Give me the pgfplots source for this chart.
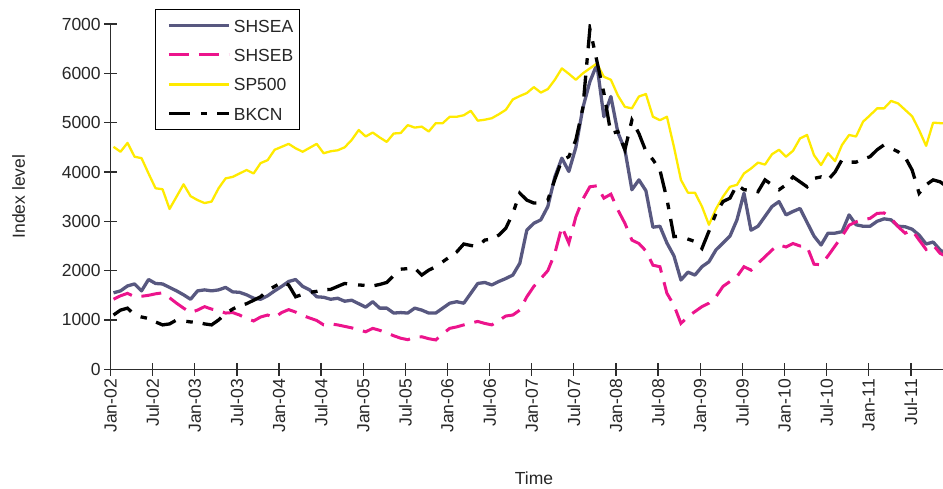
\documentclass[border=0pt]{standalone}
\usepackage{fontspec}
\setmainfont{Liberation Sans}
\usepackage{pgfplots}
\usepackage{pgfplotstable}
\pgfplotsset{compat=1.18}

\definecolor{shsea}{RGB}{88,88,128}
\definecolor{shseb}{RGB}{236,20,140}
\definecolor{spyel}{RGB}{255,234,0}
\definecolor{axisgray}{RGB}{45,45,45}

% Monthly index levels, Jan-02 (m=0) to Dec-11 (m=119)
\pgfplotstableread{
m shsea shseb sp bkcn
0 1550 1420 4510 1100
1 1590 1490 4410 1200
2 1690 1540 4590 1240
3 1730 1470 4310 1100
4 1590 1480 4280 1060
5 1820 1500 3970 1030
6 1740 1530 3670 960
7 1730 1550 3650 900
8 1660 1450 3250 920
9 1590 1340 3500 1000
10 1510 1240 3750 980
11 1420 1150 3510 960
12 1590 1200 3430 950
13 1610 1270 3370 920
14 1590 1220 3400 900
15 1610 1190 3670 1000
16 1660 1140 3870 1130
17 1570 1150 3900 1220
18 1560 1100 3970 1290
19 1510 1030 4040 1330
20 1440 980 3970 1400
21 1420 1060 4180 1470
22 1490 1100 4240 1600
23 1590 1050 4450 1680
24 1680 1150 4510 1760
25 1780 1210 4570 1710
26 1820 1160 4480 1470
27 1680 1090 4410 1520
28 1610 1040 4490 1560
29 1470 990 4570 1580
30 1460 900 4380 1610
31 1420 920 4420 1620
32 1440 900 4440 1680
33 1380 870 4500 1740
34 1400 840 4650 1720
35 1330 800 4850 1710
36 1260 760 4720 1700
37 1370 830 4800 1690
38 1240 790 4700 1720
39 1240 740 4610 1760
40 1140 680 4780 1900
41 1150 630 4790 2030
42 1140 600 4950 2040
43 1240 650 4900 2050
44 1200 660 4920 1910
45 1140 620 4820 2010
46 1140 595 4990 2080
47 1240 720 4990 2180
48 1340 830 5120 2280
49 1370 860 5120 2380
50 1340 900 5150 2540
51 1540 940 5240 2510
52 1740 970 5040 2490
53 1760 930 5060 2620
54 1710 900 5090 2640
55 1780 990 5170 2720
56 1840 1080 5260 2860
57 1910 1100 5470 3160
58 2150 1200 5540 3570
59 2820 1470 5600 3430
60 2960 1680 5720 3370
61 3030 1840 5610 3370
62 3300 2000 5680 3430
63 3900 2350 5870 3850
64 4280 2890 6100 4240
65 4010 2560 5990 4310
66 4500 3090 5870 4650
67 5300 3450 6000 5300
68 5830 3700 6100 6900
69 6180 3720 6200 6250
70 5120 3470 5930 5600
71 5530 3550 5870 4780
72 4800 3230 5550 4820
73 4450 2960 5320 4450
74 3640 2620 5290 5050
75 3840 2550 5530 4780
76 3620 2400 5580 4420
77 2880 2110 5120 4250
78 2900 2080 5050 4040
79 2560 1540 5120 3450
80 2300 1300 4510 2690
81 1810 930 3840 2700
82 1970 1070 3580 2640
83 1910 1170 3580 2590
84 2080 1270 3300 2450
85 2180 1340 2930 2800
86 2420 1470 3250 3160
87 2560 1680 3500 3400
88 2700 1780 3700 3470
89 3030 1880 3740 3740
90 3570 2080 3970 3640
91 2820 2010 4070 3630
92 2900 2150 4190 3600
93 3100 2280 4150 3840
94 3300 2420 4360 3740
95 3400 2520 4450 3640
96 3130 2480 4310 3740
97 3200 2550 4430 3900
98 3260 2500 4680 3800
99 2980 2490 4750 3700
100 2700 2130 4340 3870
101 2520 2120 4140 3900
102 2760 2300 4380 3840
103 2760 2500 4220 4000
104 2790 2700 4550 4250
105 3130 2920 4750 4200
106 2930 2990 4720 4200
107 2900 3030 5020 4260
108 2900 3060 5150 4310
109 3000 3160 5290 4450
110 3050 3170 5290 4550
111 3030 3060 5440 4480
112 2900 2890 5390 4410
113 2890 2760 5260 4300
114 2840 2820 5130 4040
115 2720 2620 4850 3570
116 2540 2430 4530 3740
117 2580 2520 5000 3840
118 2420 2350 4990 3800
119 2320 2280 4990 3700
}\indexdata

\begin{document}
\begin{tikzpicture}[x=1pt,y=1pt,font=\fontsize{17.5}{21}\selectfont]
\begin{axis}[
  at={(110.5pt,119.7pt)}, anchor=south west,
  scale only axis, width=832.5pt, height=345.3pt,
  xmin=-0.43, xmax=118.41, ymin=0, ymax=7000,
  axis x line*=bottom, axis y line*=left,
  axis line style={axisgray, line width=1.3pt},
  every tick/.style={axisgray, line width=1.3pt},
  tick align=center, major tick length=12.5pt,
  xtick={-0.43,5.58,11.60,17.61,23.62,29.64,35.65,41.66,47.67,53.69,59.70,65.71,71.73,77.74,83.75,89.77,95.78,101.79,107.81,113.82},
  xticklabels={Jan-02,Jul-02,Jan-03,Jul-03,Jan-04,Jul-04,Jan-05,Jul-05,Jan-06,Jul-06,Jan-07,Jul-07,Jan-08,Jul-08,Jan-09,Jul-09,Jan-10,Jul-10,Jan-11,Jul-11},
  ytick={0,1000,2000,3000,4000,5000,6000,7000},
  xticklabel style={rotate=90, anchor=east, text=black!85},
  yticklabel style={text=black!85},
  /pgf/number format/assume math mode=true,
  /pgf/number format/1000 sep={},
  scaled y ticks=false,
  xlabel={Time}, ylabel={Index level},
  xlabel style={at={(axis description cs:0.5087,-0.335)}, anchor=base, text=black!85},
  ylabel style={at={(axis description cs:-0.1027,0.5)}, anchor=base, text=black!85},
  no markers,
  legend style={at={(axis description cs:0.0538,1.0426)}, anchor=north west,
    draw=black, line width=1.2pt, inner xsep=0pt, inner ysep=1pt,
    row sep=0pt, column sep=3.3pt,
    nodes={inner xsep=0pt, inner ysep=8.2pt, text height=13pt, text depth=0pt, text=black!85}},
  legend cell align=left,
  legend image code/.code={\path (0pt,0pt); \draw[#1] (11.4pt,0pt) -- (71.4pt,0pt);},
]
\addplot[shsea, line width=3.3pt, line join=round] table[x=m, y=shsea] {\indexdata};
\addlegendentry{SHSEA\hspace*{6pt}}
\addplot[shseb, line width=3pt, dash pattern=on 20pt off 10pt] table[x=m, y=shseb] {\indexdata};
\addlegendentry{SHSEB\hspace*{6pt}}
\addplot[spyel, line width=2.3pt, line join=round] table[x=m, y=sp] {\indexdata};
\addlegendentry{SP500\hspace*{6pt}}
\addplot[black, line width=3.3pt, dash pattern=on 21pt off 11pt on 6.5pt off 10pt] table[x=m, y=bkcn] {\indexdata};
\addlegendentry{BKCN\hspace*{6pt}}
\end{axis}
\pgfresetboundingbox
\path (0,0) rectangle (943,489);
\end{tikzpicture}
\end{document}
